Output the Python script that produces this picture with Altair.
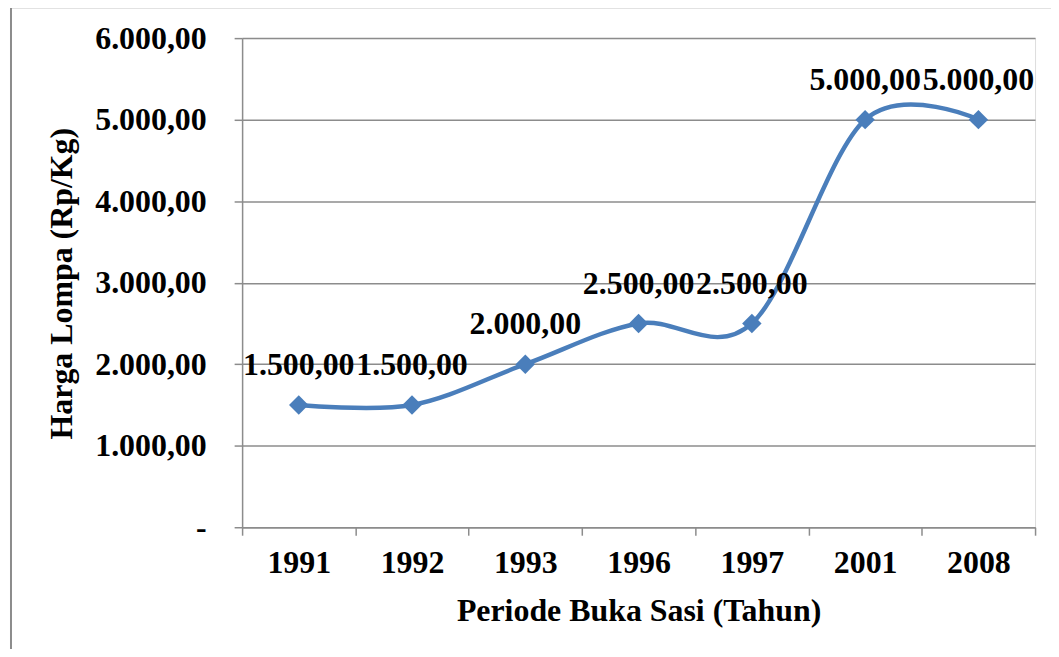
import altair as alt
import pandas as pd

years = ["1991", "1992", "1993", "1996", "1997", "2001", "2008"]
prices = [1500, 1500, 2000, 2500, 2500, 5000, 5000]
y_ticks = [0, 1000, 2000, 3000, 4000, 5000, 6000]

df = pd.DataFrame({"idx": list(range(len(years))), "year": years, "price": prices})

FONT = "Liberation Serif"
BLUE = "#4A7EBB"
GRID = "#8C8C8C"
FS = 32

fmt_expr = "replace(replace(replace(format({v}, ',.2f'), ',', '_'), '.', ','), '_', '.')"

x_vals = [i / 2 - 0.5 for i in range(2 * len(years) + 1)]
year_arr = "[" + ",".join("'%s'" % y for y in years) + "]"

x_enc = alt.X(
    "idx:Q",
    scale=alt.Scale(domain=[-0.5, len(years) - 0.5], nice=False, zero=False),
    axis=alt.Axis(
        values=x_vals,
        labelExpr="datum.value % 1 == 0 ? " + year_arr + "[datum.value] : ''",
        tickOpacity={"condition": {"test": "datum.value % 1 == 0", "value": 0}, "value": 1},
        grid=False,
        title="Periode Buka Sasi (Tahun)",
        titleFont=FONT, titleFontSize=FS, titleFontWeight="bold", titleColor="black",
        titlePadding=18,
        labelFont=FONT, labelFontSize=FS, labelFontWeight="bold", labelColor="black",
        labelPadding=12, labelOverlap=False, labelFlush=False,
        domainColor=GRID, tickColor=GRID, tickSize=8, domainWidth=1.5, tickWidth=1.5,
    ),
)

y_enc = alt.Y(
    "price:Q",
    scale=alt.Scale(domain=[0, 6000], nice=False),
    axis=alt.Axis(
        values=y_ticks,
        labelExpr="datum.value == 0 ? '-' : " + fmt_expr.format(v="datum.value"),
        grid=True, gridColor=GRID, gridWidth=1.5,
        title="Harga Lompa (Rp/Kg)",
        titleFont=FONT, titleFontSize=FS, titleFontWeight="bold", titleColor="black",
        titleX=-164, titleY=246, titleAngle=270, titleBaseline="bottom", titleAlign="center",
        labelFont=FONT, labelFontSize=FS, labelFontWeight="bold", labelColor="black",
        labelPadding=28,
        domainColor=GRID, tickColor=GRID, tickSize=8, domainWidth=1.5, tickWidth=1.5,
    ),
)

base = alt.Chart(df)

line = base.mark_line(interpolate="cardinal", tension=0, color=BLUE, strokeWidth=4.5).encode(
    x=x_enc, y=y_enc
)
points = base.mark_point(shape="diamond", filled=True, size=380, color=BLUE, opacity=1).encode(
    x="idx:Q", y="price:Q"
)
labels = base.transform_calculate(
    lab=fmt_expr.format(v="datum.price")
).mark_text(font=FONT, fontSize=FS, fontWeight="bold", color="black", dy=-40).encode(
    x="idx:Q", y="price:Q", text="lab:N"
)

frame = alt.Chart(pd.DataFrame({"a": [0]})).mark_rect(
    fill="transparent", stroke="#8C8C8C", strokeWidth=2
).encode(
    x=alt.value(-232), x2=alt.value(830), y=alt.value(-31), y2=alt.value(640)
)

chart = alt.layer(frame, line, points, labels).properties(
    width=796, height=491,
    autosize=alt.AutoSizeParams(type="none"),
    padding={"left": 235, "top": 29, "right": 16, "bottom": 121},
).configure_view(stroke=None).configure(background="white")

chart.save("out.html", embed_options={"renderer": "svg", "actions": False})
